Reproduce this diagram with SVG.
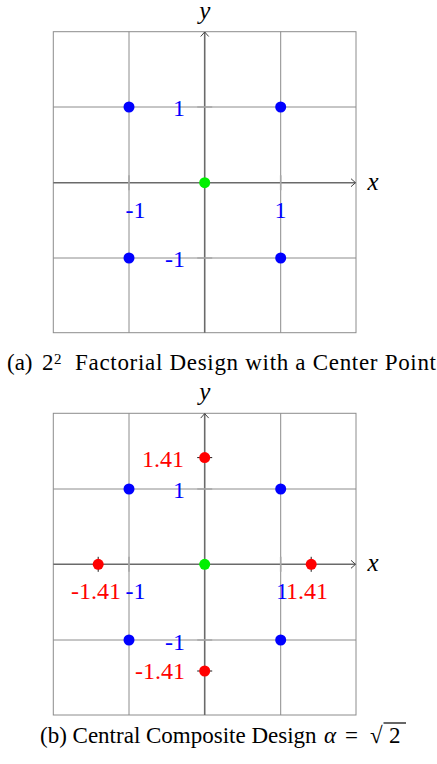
<svg xmlns="http://www.w3.org/2000/svg" width="437" height="764" viewBox="0 0 437 764">
<rect width="437" height="764" fill="#fff"/>

<!-- Plot (a) -->
<g id="plot-a">
  <g id="grid-a" stroke="#8c8c8c" stroke-width="1" fill="none">
    <rect x="53.3" y="31.7" width="302.7" height="301"/>
    <path d="M129 31.7V332.7M280.7 31.7V332.7M53.3 107H356M53.3 258H356"/>
  </g>
  <g id="axes-a" fill="none">
    <path stroke="#6a6a6a" stroke-width="1.6" d="M53.3 182.7H355.5M204.7 332.7V32"/>
    <path stroke="#444" stroke-width="1" d="M351 178.7L355.5 182.7L351 186.7M200.7 36.5L204.7 32L208.7 36.5"/>
    <path stroke="#a8a8a8" stroke-width="1.6" d="M129 175.2V190.2M280.7 175.2V190.2M197.2 107H212.2M197.2 258H212.2"/>
  </g>
  <g id="axis-labels-a" font-family="'Liberation Serif'" font-size="25" font-style="italic" text-anchor="middle" fill="#000">
    <text x="204.7" y="19">y</text>
    <text x="373" y="190">x</text>
  </g>
  <g id="labels-a" font-family="'Liberation Serif'" font-size="24" fill="#0000ff">
    <text x="185" y="116" text-anchor="end">1</text>
    <text x="185" y="266.5" text-anchor="end">-1</text>
    <text x="125.5" y="218">-1</text>
    <text x="280.5" y="218" text-anchor="middle">1</text>
  </g>
  <g id="points-a" fill="#0000ff">
    <circle id="a-p1" cx="129" cy="107" r="5.5"/>
    <circle id="a-p2" cx="280.7" cy="107" r="5.5"/>
    <circle id="a-p3" cx="129" cy="258" r="5.5"/>
    <circle id="a-p4" cx="280.7" cy="258" r="5.5"/>
    <circle id="a-c" fill="#00f000" cx="204.7" cy="182.7" r="5.5"/>
  </g>
  <text id="caption-a" y="370" font-family="'Liberation Serif'" font-size="23" fill="#000"><tspan x="7">(a)</tspan><tspan x="42" y="370">2</tspan><tspan x="54" y="364" font-size="15">2</tspan><tspan x="75" y="370" textLength="361" lengthAdjust="spacing">Factorial Design with a Center Point</tspan></text>
</g>

<!-- Plot (b) -->
<g id="plot-b">
  <g id="grid-b" stroke="#8c8c8c" stroke-width="1" fill="none">
    <rect x="53.3" y="413.3" width="302.7" height="301.7"/>
    <path d="M129 413.3V715M280.7 413.3V715M53.3 489H356M53.3 640H356"/>
  </g>
  <g id="axes-b" fill="none">
    <path stroke="#6a6a6a" stroke-width="1.6" d="M53.3 564.3H355.5M204.7 715V413.6"/>
    <path stroke="#444" stroke-width="1" d="M351 560.3L355.5 564.3L351 568.3M200.7 418.1L204.7 413.6L208.7 418.1"/>
    <path stroke="#a8a8a8" stroke-width="1.6" d="M129 556.8V571.8M280.7 556.8V571.8M197.2 489H212.2M197.2 640H212.2"/>
    <path stroke="#000" stroke-width="0.9" d="M98.2 556.8V571.8M311.2 556.8V571.8M197.2 457.6H212.2M197.2 671H212.2"/>
  </g>
  <g id="axis-labels-b" font-family="'Liberation Serif'" font-size="25" font-style="italic" text-anchor="middle" fill="#000">
    <text x="204.7" y="400">y</text>
    <text x="373" y="571">x</text>
  </g>
  <g id="labels-b" font-family="'Liberation Serif'" font-size="24">
    <text fill="#ff0000" x="184" y="467" text-anchor="end">1.41</text>
    <text fill="#0000ff" x="185" y="497.5" text-anchor="end">1</text>
    <text fill="#0000ff" x="185" y="650" text-anchor="end">-1</text>
    <text fill="#ff0000" x="185" y="679" text-anchor="end">-1.41</text>
    <text fill="#ff0000" x="71" y="599">-1.41</text>
    <text fill="#0000ff" x="125.5" y="599">-1</text>
    <text fill="#0000ff" x="276" y="599">1</text>
    <text fill="#ff0000" x="286" y="599">1.41</text>
  </g>
  <g id="points-b" fill="#0000ff">
    <circle id="b-p1" cx="129" cy="489" r="5.5"/>
    <circle id="b-p2" cx="280.7" cy="489" r="5.5"/>
    <circle id="b-p3" cx="129" cy="640" r="5.5"/>
    <circle id="b-p4" cx="280.7" cy="640" r="5.5"/>
    <circle id="b-s1" fill="#ff0000" cx="204.7" cy="457.6" r="5.5"/>
    <circle id="b-s2" fill="#ff0000" cx="204.7" cy="671" r="5.5"/>
    <circle id="b-s3" fill="#ff0000" cx="98.2" cy="564.3" r="5.5"/>
    <circle id="b-s4" fill="#ff0000" cx="311.2" cy="564.3" r="5.5"/>
    <circle id="b-c" fill="#00f000" cx="204.7" cy="564.3" r="5.5"/>
  </g>
  <g id="caption-b" font-family="'Liberation Serif'" font-size="23" fill="#000">
    <text x="40" y="743">(b) Central Composite Design</text>
    <text x="324" y="743" font-style="italic">α</text>
    <text x="345" y="743">=</text>
    <text x="370" y="743">√</text>
    <text x="389" y="743">2</text>
    <path d="M383.5 723H406" stroke="#000" stroke-width="1.2"/>
  </g>
</g>
</svg>
